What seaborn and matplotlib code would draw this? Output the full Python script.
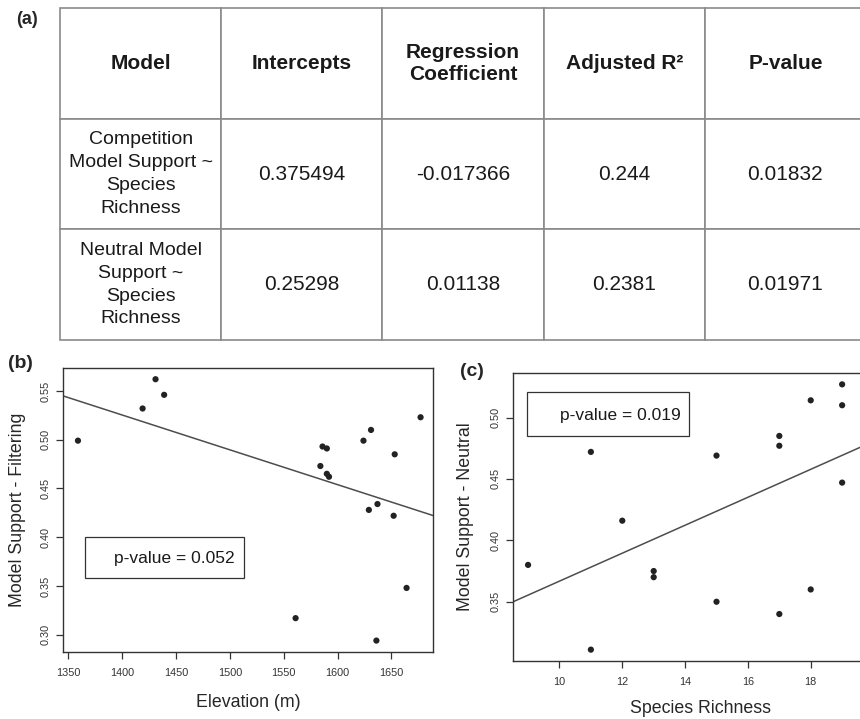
import matplotlib
matplotlib.use('Agg')
import matplotlib.pyplot as plt
import seaborn as sns
from matplotlib.patches import Rectangle

# (a) regression summary table
table_columns = ['Model', 'Intercepts', 'Regression\nCoefficient', 'Adjusted R\u00b2', 'P-value']
model_names = ['Competition\nModel Support ~\nSpecies\nRichness',
               'Neutral Model\nSupport ~\nSpecies\nRichness']
intercepts = ['0.375494', '0.25298']
reg_coefs = ['-0.017366', '0.01138']
adj_r2 = ['0.244', '0.2381']
p_values = ['0.01832', '0.01971']

# (b) filtering model support vs elevation
elevation = [1359, 1419, 1431, 1439, 1561, 1584, 1586, 1590, 1590, 1592,
             1624, 1631, 1629, 1637, 1636, 1653, 1652, 1664, 1677]
filtering_support = [0.499, 0.532, 0.562, 0.546, 0.317, 0.473, 0.493, 0.491, 0.465, 0.462,
                     0.499, 0.510, 0.428, 0.434, 0.294, 0.485, 0.422, 0.348, 0.523]
b_pvalue = 'p-value = 0.052'

# (c) neutral model support vs species richness
richness = [9, 11, 11, 12, 13, 13, 15, 15, 17, 17, 17, 18, 18, 19, 19, 19]
neutral_support = [0.380, 0.472, 0.311, 0.416, 0.375, 0.370, 0.469, 0.350,
                   0.485, 0.477, 0.340, 0.514, 0.360, 0.527, 0.510, 0.447]
c_pvalue = 'p-value = 0.019'

sns.set_style('white')
plt.rcParams['font.family'] = ['Liberation Sans', 'DejaVu Sans']

fig = plt.figure(figsize=(8.6, 7.19), dpi=100)

# ---- table
tax = fig.add_axes([60/860, 1-340/719, 806/860, 331.7/719])
tax.axis('off')
rows = [[model_names[i], intercepts[i], reg_coefs[i], adj_r2[i], p_values[i]] for i in range(2)]
tbl = tax.table(cellText=rows, colLabels=table_columns, cellLoc='center', bbox=[0, 0, 1, 1])
tbl.auto_set_font_size(False)
for (r, c), cell in tbl.get_celld().items():
    cell.set_edgecolor('#8a8a8a')
    cell.set_linewidth(1.2)
    txt = cell.get_text()
    txt.set_color('#1a1a1a')
    txt.set_linespacing(1.45)
    if r == 0:
        txt.set_fontweight('bold')
        txt.set_fontsize(15)
        txt.set_linespacing(1.25)
    elif c == 0:
        txt.set_fontsize(14)
    else:
        txt.set_fontsize(15)

def style_axes(ax):
    for sp in ax.spines.values():
        sp.set_visible(True)
        sp.set_color('#333333')
        sp.set_linewidth(1.0)
    ax.tick_params(axis='both', direction='out', length=5, width=0.9, color='#333333',
                   labelsize=7.8, labelcolor='#333333', bottom=True, left=True)
    ax.tick_params(axis='x', pad=7)
    ax.tick_params(axis='y', pad=4, labelrotation=90)
    for lab in ax.get_yticklabels():
        lab.set_va('center')

point_kws = dict(s=20, color='#222222', edgecolors='none', alpha=1)
line_kws = dict(color='#4d4d4d', lw=1.1)

# ---- (b)
axb = fig.add_axes([63.3/860, 67.3/719, 370.2/860, 283.4/719])
axb.set_xlim(1345.4, 1689)
axb.set_ylim(0.2826, 0.5732)
sns.regplot(x=elevation, y=filtering_support, ax=axb, ci=None, truncate=False,
            scatter_kws=point_kws, line_kws=line_kws)
axb.set_xlim(1345.4, 1689)
axb.set_ylim(0.2826, 0.5732)
axb.set_xticks(range(1350, 1651, 50))
axb.set_yticks([0.30, 0.35, 0.40, 0.45, 0.50, 0.55])
axb.set_yticklabels(['0.30', '0.35', '0.40', '0.45', '0.50', '0.55'])
axb.set_xlabel('Elevation (m)', fontsize=12.8, labelpad=11)
axb.set_ylabel('Model Support - Filtering', fontsize=12.8, labelpad=11)
style_axes(axb)
axb.add_patch(Rectangle((1365.5, 0.358), 147.5, 0.0426, fill=False, ec='#333333', lw=0.9))
axb.text(1504.6, 0.3785, b_pvalue, ha='right', va='center', fontsize=12.5, color='#1a1a1a')

# ---- (c)
axc = fig.add_axes([513.3/860, 58.3/719, 375/860, 287.4/719])
xlim_c = (8.53, 20.47)
axc.set_xlim(*xlim_c)
axc.set_ylim(0.302, 0.536)
sns.scatterplot(x=richness, y=neutral_support, ax=axc, **point_kws)
axc.axline((0, float(intercepts[1])), slope=float(reg_coefs[1]), **line_kws)
axc.set_xlim(*xlim_c)
axc.set_ylim(0.302, 0.536)
axc.set_xticks(range(10, 19, 2))
axc.set_yticks([0.35, 0.40, 0.45, 0.50])
axc.set_yticklabels(['0.35', '0.40', '0.45', '0.50'])
axc.set_xlabel('Species Richness', fontsize=12.8, labelpad=9)
axc.set_ylabel('Model Support - Neutral', fontsize=12.8, labelpad=12)
style_axes(axc)
axc.add_patch(Rectangle((8.98, 0.485), 5.16, 0.0354, fill=False, ec='#333333', lw=0.9))
axc.text(13.86, 0.502, c_pvalue, ha='right', va='center', fontsize=12.5, color='#1a1a1a')

# panel letters
fig.text(27/860, 1-20/719, '(a)', fontsize=13, fontweight='bold', ha='center', va='center')
fig.text(20/860, 1-363/719, '(b)', fontsize=14, fontweight='bold', ha='center', va='center')
fig.text(472/860, 1-372/719, '(c)', fontsize=14, fontweight='bold', ha='center', va='center')

fig.savefig('out.png', dpi=100)
